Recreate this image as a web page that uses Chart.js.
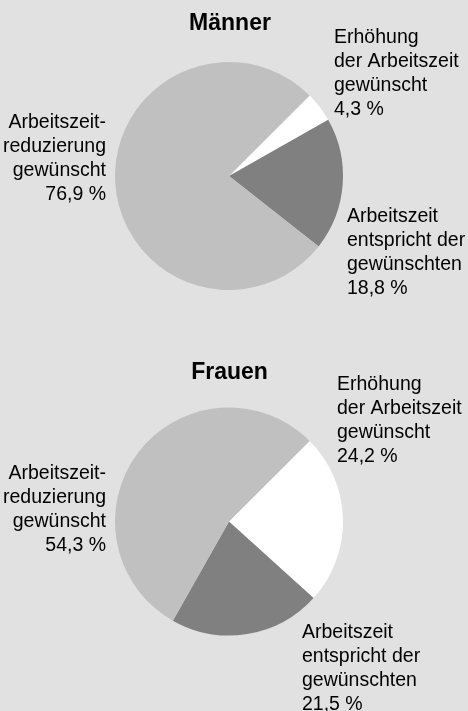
<!DOCTYPE html>
<html>
<head>
<meta charset="utf-8">
<script src="https://cdn.jsdelivr.net/npm/chart.js@4"></script>
<style>
  html, body { margin: 0; padding: 0; background: #e1e1e1; }
  body { width: 468px; height: 711px; position: relative; overflow: hidden; }
  .box { position: absolute; left: 0; width: 468px; }
  #b1 { top: 0; height: 355px; }
  #b2 { top: 355px; height: 356px; }
</style>
</head>
<body>
<div class="box" id="b1"><canvas id="c1"></canvas></div>
<div class="box" id="b2"><canvas id="c2"></canvas></div>
<script>
// ---- data ----
const categories = [
  "Erhöhung der Arbeitszeit gewünscht",
  "Arbeitszeit entspricht der gewünschten",
  "Arbeitszeitreduzierung gewünscht"
];
const labelLinesIncrease = ["Erhöhung", "der Arbeitszeit", "gewünscht"];
const labelLinesSame = ["Arbeitszeit", "entspricht der", "gewünschten"];
const labelLinesReduce = ["Arbeitszeit-", "reduzierung", "gewünscht"];
const titles = ["Männer", "Frauen"];
const maennerValues = [4.3, 18.8, 76.9];
const frauenValues = [24.2, 21.5, 54.3];
const sliceColors = ["#ffffff", "#808080", "#c0c0c0"];

const fmt = v => v.toFixed(1).replace('.', ',') + ' %';

function labelPlugin(title, values, pos) {
  return {
    id: 'labels',
    afterDraw(chart) {
      const ctx = chart.ctx;
      ctx.save();
      ctx.fillStyle = '#000';
      ctx.textBaseline = 'alphabetic';
      ctx.font = 'bold 23px "Liberation Sans", Arial, sans-serif';
      ctx.textAlign = 'center';
      ctx.fillText(title, pos.title[0], pos.title[1]);
      ctx.font = '19.5px "Liberation Sans", Arial, sans-serif';
      const blocks = [
        [labelLinesIncrease, values[0], pos.inc, 'left'],
        [labelLinesSame, values[1], pos.same, 'left'],
        [labelLinesReduce, values[2], pos.red, 'right']
      ];
      const lh = 24;
      blocks.forEach(([lines, v, p, align]) => {
        ctx.textAlign = align;
        const all = lines.concat([fmt(v)]);
        all.forEach((t, i) => ctx.fillText(t, p[0], p[1] + i * lh));
      });
      ctx.restore();
    }
  };
}

function makePie(id, title, values, padding, pos) {
  return new Chart(document.getElementById(id), {
    type: 'pie',
    data: {
      labels: categories,
      datasets: [{
        data: values,
        backgroundColor: sliceColors,
        borderWidth: 0,
        hoverOffset: 0
      }]
    },
    options: {
      responsive: true,
      maintainAspectRatio: false,
      animation: false,
      rotation: 45,
      layout: { padding },
      plugins: { legend: { display: false }, tooltip: { enabled: false }, title: { display: false } },
      events: []
    },
    plugins: [labelPlugin(title, values, pos)]
  });
}

makePie('c1', titles[0], maennerValues,
  { left: 115, right: 125, top: 62, bottom: 65 },
  { title: [230, 29.5], inc: [334, 43], same: [347, 222], red: [106, 128] });
makePie('c2', titles[1], frauenValues,
  { left: 115, right: 125, top: 52.5, bottom: 75.5 },
  { title: [229.5, 23.5], inc: [337, 35], same: [302, 283], red: [106, 123.5] });
</script>
</body>
</html>
